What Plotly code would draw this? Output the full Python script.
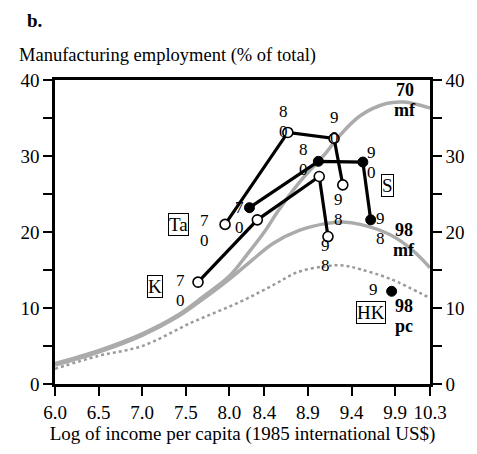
import plotly.graph_objects as go

# ---- data ----
x_ticks = [6.0, 6.5, 7.0, 7.5, 8.0, 8.4, 8.9, 9.4, 9.9, 10.3]
x_tick_labels = ["6.0", "6.5", "7.0", "7.5", "8.0", "8.4", "8.9", "9.4", "9.9", "10.3"]
y_ticks = [0, 10, 20, 30, 40]

mf70_x = [6.0, 6.5, 7.0, 7.4, 7.7, 8.0, 8.2, 8.4, 8.56, 8.8, 9.1, 9.25, 9.5, 9.8, 10.0, 10.3]
mf70_y = [2.7, 4.4, 6.6, 9.0, 11.5, 14.2, 17.0, 20.0, 22.8, 26.5, 30.3, 32.5, 35.3, 36.9, 37.1, 36.3]

mf98_x = [6.0, 6.5, 7.0, 7.4, 7.7, 8.0, 8.25, 8.5, 8.8, 9.1, 9.3, 9.5, 9.85, 10.1, 10.3]
mf98_y = [2.5, 4.2, 6.4, 8.8, 11.2, 13.8, 16.2, 18.5, 20.2, 21.1, 21.3, 21.0, 19.6, 17.6, 15.3]

pc98_x = [6.0, 6.5, 7.0, 7.57, 8.12, 8.5, 8.78, 9.1, 9.3, 9.5, 9.85, 10.3]
pc98_y = [2.0, 3.7, 5.0, 8.1, 10.8, 13.0, 14.7, 15.5, 15.6, 15.1, 13.8, 11.3]

ta_x = [7.95, 8.67, 9.20, 9.30]
ta_y = [21.0, 33.1, 32.3, 26.2]
k_x = [7.64, 8.32, 9.03, 9.13]
k_y = [13.4, 21.6, 27.3, 19.4]
s_x = [8.23, 9.02, 9.53, 9.62]
s_y = [23.2, 29.3, 29.2, 21.6]
hk_x = [9.86]
hk_y = [12.2]

FONT = "Liberation Serif"

fig = go.Figure()

# reference curves
fig.add_trace(go.Scatter(x=mf98_x, y=mf98_y, mode="lines", line=dict(color="#ababab", width=3.5, shape="spline"), hoverinfo="skip"))
fig.add_trace(go.Scatter(x=mf70_x, y=mf70_y, mode="lines", line=dict(color="#ababab", width=3.5, shape="spline"), hoverinfo="skip"))
fig.add_trace(go.Scatter(x=pc98_x, y=pc98_y, mode="lines", line=dict(color="#9a9a9a", width=2.5, dash="dot", shape="spline"), hoverinfo="skip"))

# country paths
open_marker = dict(symbol="circle", size=10, color="white", line=dict(color="black", width=1.6))
filled_marker = dict(symbol="circle", size=10, color="black", line=dict(color="black", width=1))
fig.add_trace(go.Scatter(x=ta_x, y=ta_y, mode="lines+markers", line=dict(color="black", width=3.2), marker=open_marker))
fig.add_trace(go.Scatter(x=k_x, y=k_y, mode="lines+markers", line=dict(color="black", width=3.2), marker=open_marker))
fig.add_trace(go.Scatter(x=s_x, y=s_y, mode="lines+markers", line=dict(color="black", width=3.2), marker=filled_marker))
fig.add_trace(go.Scatter(x=hk_x, y=hk_y, mode="markers", marker=filled_marker))

# invisible trace for right axis
fig.add_trace(go.Scatter(x=[6.0], y=[0], yaxis="y2", mode="markers", marker=dict(opacity=0), hoverinfo="skip"))

anns = []
def lab(x, y, text, dx, dy, size=17, bold=False, box=False):
    t = f"<b>{text}</b>" if bold else text
    a = dict(x=x, y=y, xref="x", yref="y", text=t, showarrow=False, xshift=dx, yshift=-dy,
             font=dict(family=FONT, size=size, color="black"), align="center")
    if box:
        a.update(bordercolor="black", borderwidth=1, borderpad=0, bgcolor="white")
    anns.append(a)

GAP = 20
def stack(x, y, top, bottom, d1, size=17, bold=False):
    lab(x, y, top, d1[0], d1[1], size=size, bold=bold)
    lab(x, y, bottom, d1[0], d1[1] + GAP, size=size, bold=bold)

# year labels (two stacked digits)
stack(ta_x[0], ta_y[0], "7", "0", (-21, -4))
stack(ta_x[1], ta_y[1], "8", "0", (-4, -21))
stack(ta_x[2], ta_y[2], "9", "0", (0, -21))
stack(ta_x[3], ta_y[3], "9", "8", (-4, 15))
stack(k_x[0], k_y[0], "7", "0", (-18, -2))
stack(k_x[3], k_y[3], "9", "8", (-2, 9))
stack(s_x[0], s_y[0], "7", "0", (-10, 0))
stack(s_x[1], s_y[1], "8", "0", (-15, -12))
stack(s_x[2], s_y[2], "9", "0", (9, -10))
stack(s_x[3], s_y[3], "9", "8", (10, -1))
lab(hk_x[0], hk_y[0], "9", -18, -2)

# country boxes
lab(ta_x[0], ta_y[0], "Ta", -47, 0, size=19, box=True)
lab(k_x[0], k_y[0], "K", -43, 4, size=19, box=True)
lab(s_x[2], s_y[2], "S", 25, 23, size=19, box=True)
lab(hk_x[0], hk_y[0], "HK", -21, 21, size=19, box=True)

# curve labels (anchored at curve points)
stack(mf70_x[-2], mf70_y[-2], "70", "mf", (1, -12), size=18, bold=True)
stack(mf98_x[-1], mf98_y[-1], "98", "mf", (-26, -38), size=18, bold=True)
stack(pc98_x[-1], pc98_y[-1], "98", "pc", (-26, 8), size=18, bold=True)

fig.update_layout(annotations=anns)

# page-pixel positioned texts (page = figure + 8px body margin)
OFF = 8
W, H = 469, 446
L, R, T, B = 40, 39, 72, 69
pw, ph = W - L - R, H - T - B
def px2paper(px, py):
    return (px - OFF - L) / pw, (H - B - (py - OFF)) / ph

bx, by = px2paper(17, 20)
fig.add_annotation(x=bx, y=by, xref="paper", yref="paper", text="<b>b.</b>", showarrow=False,
                   xanchor="left", yanchor="middle", font=dict(family=FONT, size=19, color="black"))
tx, ty = px2paper(8, 55)
fig.add_annotation(x=tx, y=ty, xref="paper", yref="paper", text="Manufacturing employment (% of total)",
                   showarrow=False, xanchor="left", yanchor="middle", font=dict(family=FONT, size=18.5, color="black"))

axis_font = dict(family=FONT, size=19, color="black")
fig.update_layout(
    width=W, height=H,
    margin=dict(l=L, r=R, t=T, b=B),
    paper_bgcolor="white", plot_bgcolor="white",
    showlegend=False,
    xaxis=dict(range=[6.0, 10.3], tickvals=x_ticks, ticktext=x_tick_labels, ticks="outside", ticklen=9,
               tickwidth=1.5, tickcolor="black", showline=True, linecolor="black", linewidth=2.5,
               mirror=True, showgrid=False, zeroline=False, tickfont=axis_font,
               title=dict(text="Log of income per capita (1985 international US$)", font=axis_font, standoff=6)),
    yaxis=dict(range=[0, 40], tickvals=y_ticks, ticks="outside", ticklen=9, tickwidth=1.5, tickcolor="black",
               showline=True, linecolor="black", linewidth=2.5, showgrid=False, zeroline=False,
               tickfont=axis_font,
               minor=dict(tickvals=[5, 15, 25, 35], ticks="outside", ticklen=9, tickwidth=1.5, tickcolor="black")),
    yaxis2=dict(range=[0, 40], tickvals=y_ticks, overlaying="y", side="right", ticks="outside", ticklen=9,
                tickwidth=1.5, tickcolor="black", showline=True, linecolor="black", linewidth=2.5,
                showgrid=False, zeroline=False, tickfont=axis_font,
                minor=dict(tickvals=[5, 15, 25, 35], ticks="outside", ticklen=9, tickwidth=1.5, tickcolor="black")),
)

fig.write_html("out.html")
